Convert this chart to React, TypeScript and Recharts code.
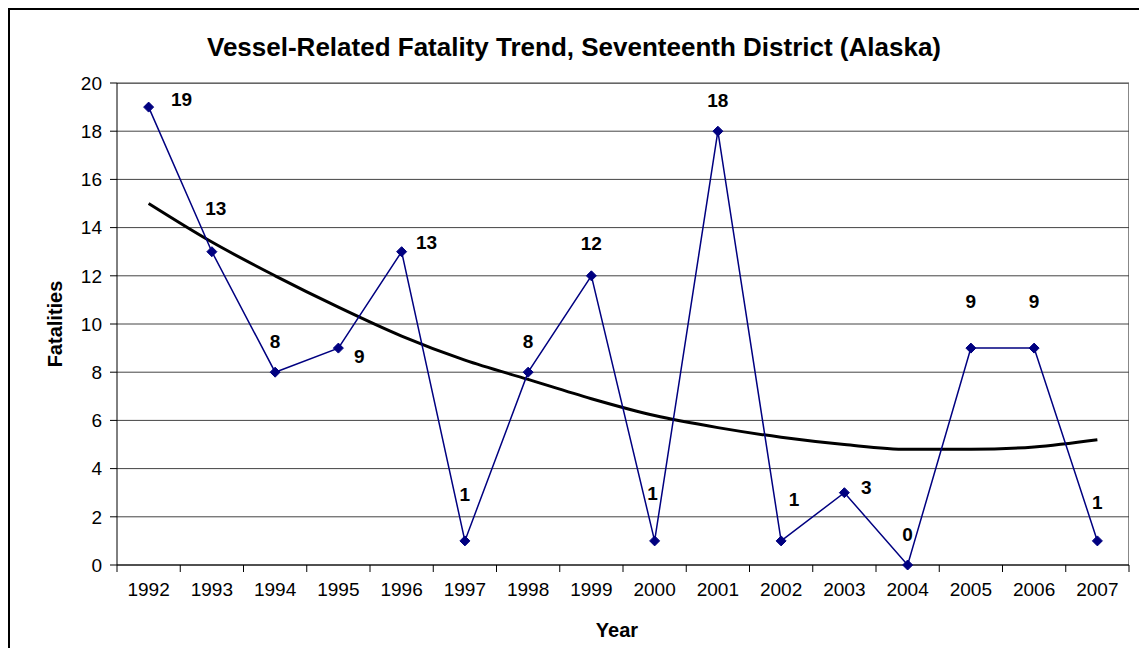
import React from "react";
import { LineChart, Line, XAxis, YAxis, CartesianGrid, LabelList } from "recharts";

const years = ["1992", "1993", "1994", "1995", "1996", "1997", "1998", "1999", "2000", "2001", "2002", "2003", "2004", "2005", "2006", "2007"];
const fatalities = [19, 13, 8, 9, 13, 1, 8, 12, 1, 18, 1, 3, 0, 9, 9, 1];
const trend = [15.0, 13.4, 12.0, 10.7, 9.5, 8.5, 7.7, 6.9, 6.2, 5.7, 5.3, 5.0, 4.8, 4.8, 4.9, 5.2];
const yTicks = [0, 2, 4, 6, 8, 10, 12, 14, 16, 18, 20];

const data = years.map((year, i) => ({ year, fatalities: fatalities[i], trend: trend[i] }));

// layout
const W = 1139;
const H = 648;
const PLOT_L = 117;
const PLOT_R = 1129;
const PLOT_T = 83;
const PLOT_B = 565;
const BAND = (PLOT_R - PLOT_L) / years.length;
const FONT = "'Liberation Sans', Arial, sans-serif";

// manual label nudges (dx, dy from the point)
const labelNudge: [number, number][] = [
  [33, -8], [4, -43], [0, -31], [21, 8], [25, -9], [0, -46], [0, -31], [0, -32],
  [-2, -47], [0, -31], [13, -41], [22, -5], [0, -31], [0, -47], [0, -47], [0, -38],
];

const Diamond = (props: any) => {
  const { cx, cy } = props;
  if (cx == null || cy == null) return null;
  const r = 5;
  return (
    <polygon
      points={`${cx},${cy - r} ${cx + r},${cy} ${cx},${cy + r} ${cx - r},${cy}`}
      fill="#000080"
      stroke="#000080"
    />
  );
};

const ValueLabel = (props: any) => {
  const { x, y, value, index } = props;
  const [dx, dy] = labelNudge[index] || [0, -30];
  return (
    <text
      x={x + dx}
      y={y + dy}
      textAnchor="middle"
      dominantBaseline="central"
      fontFamily={FONT}
      fontSize={19}
      fontWeight="bold"
      fill="#000"
    >
      {value}
    </text>
  );
};

const YearTick = (props: any) => {
  const { x, y, payload, index } = props;
  const left = x - BAND / 2;
  return (
    <g>
      <line x1={left} y1={PLOT_B} x2={left} y2={PLOT_B + 7} stroke="#000" />
      {index === years.length - 1 && (
        <line x1={x + BAND / 2} y1={PLOT_B} x2={x + BAND / 2} y2={PLOT_B + 7} stroke="#000" />
      )}
      <text x={x} y={y} dy="0.71em" textAnchor="middle" fontFamily={FONT} fontSize={19} fill="#000">
        {payload.value}
      </text>
    </g>
  );
};

export default function App() {
  return (
    <div style={{ position: "absolute", left: 0, top: 0, width: W, height: H, overflow: "hidden", background: "#fff" }}>
      <div
        style={{
          position: "absolute",
          left: 8,
          top: 8,
          width: W,
          height: H,
          borderTop: "2px solid #000",
          borderLeft: "2px solid #000",
        }}
      />
      <div
        style={{
          position: "absolute",
          left: 574,
          top: 47,
          transform: "translate(-50%, -50%)",
          whiteSpace: "nowrap",
          fontFamily: FONT,
          fontWeight: "bold",
          fontSize: 26,
        }}
      >
        Vessel-Related Fatality Trend, Seventeenth District (Alaska)
      </div>
      <div
        style={{
          position: "absolute",
          left: 55,
          top: 324,
          transform: "translate(-50%, -50%) rotate(-90deg)",
          fontFamily: FONT,
          fontWeight: "bold",
          fontSize: 20,
          whiteSpace: "nowrap",
        }}
      >
        Fatalities
      </div>
      <div
        style={{
          position: "absolute",
          left: 617,
          top: 630,
          transform: "translate(-50%, -50%)",
          fontFamily: FONT,
          fontWeight: "bold",
          fontSize: 20,
        }}
      >
        Year
      </div>
      <div
        style={{
          position: "absolute",
          left: PLOT_L,
          top: PLOT_T,
          width: PLOT_R - PLOT_L,
          height: PLOT_B - PLOT_T,
          borderTop: "1px solid #888",
          borderRight: "1px solid #888",
          boxSizing: "border-box",
          pointerEvents: "none",
        }}
      />
      <div style={{ position: "absolute", left: 0, top: 0 }}>
        <LineChart
          width={W}
          height={H}
          data={data}
          margin={{ top: PLOT_T, right: W - PLOT_R, bottom: H - PLOT_B - 30, left: PLOT_L - 60 }}
        >
          <CartesianGrid horizontal vertical={false} stroke="#444" strokeWidth={1} />
          <XAxis
            dataKey="year"
            height={30}
            padding={{ left: BAND / 2, right: BAND / 2 }}
            tickLine={false}
            tick={<YearTick />}
            tickMargin={0}
            tickSize={18}
            axisLine={{ stroke: "#000" }}
            interval={0}
          />
          <YAxis
            width={60}
            domain={[0, 20]}
            ticks={yTicks}
            tickSize={7}
            tickMargin={8}
            tickLine={{ stroke: "#000" }}
            axisLine={{ stroke: "#000" }}
            tick={{ fill: "#000", fontFamily: FONT, fontSize: 19 }}
          />
          <Line
            type="monotone"
            dataKey="trend"
            stroke="#000"
            strokeWidth={3}
            dot={false}
            activeDot={false}
            isAnimationActive={false}
          />
          <Line
            type="linear"
            dataKey="fatalities"
            stroke="#000080"
            strokeWidth={1.5}
            dot={<Diamond />}
            activeDot={false}
            isAnimationActive={false}
          >
            <LabelList dataKey="fatalities" content={<ValueLabel />} />
          </Line>
        </LineChart>
      </div>
    </div>
  );
}
